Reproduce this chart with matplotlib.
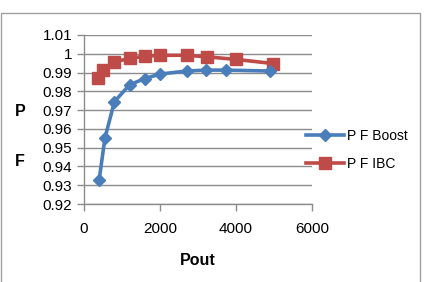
import matplotlib.pyplot as plt
from matplotlib.patches import Rectangle

# data
pout_boost = [400, 550, 800, 1200, 1600, 2000, 2700, 3200, 3750, 4900]
pf_boost = [0.933, 0.955, 0.9745, 0.9835, 0.9868, 0.9892, 0.9908, 0.9913, 0.9913, 0.9908]
pout_ibc = [380, 510, 800, 1200, 1600, 2000, 2700, 3230, 4000, 4980]
pf_ibc = [0.9869, 0.9913, 0.9957, 0.9975, 0.9987, 0.9992, 0.9992, 0.9984, 0.9970, 0.9948]
yticks = [0.92, 0.93, 0.94, 0.95, 0.96, 0.97, 0.98, 0.99, 1.0, 1.01]
ytick_labels = ['0.92', '0.93', '0.94', '0.95', '0.96', '0.97', '0.98', '0.99', '1', '1.01']
xticks = [0, 2000, 4000, 6000]

plt.rcParams['font.family'] = ['Liberation Sans', 'DejaVu Sans']

fig = plt.figure(figsize=(4.26, 2.82), dpi=100)
ax = fig.add_axes([84 / 426, 1 - 204 / 282, 228 / 426, 169 / 282])

grid_c = '#8c8c8c'
ax.plot(pout_boost, pf_boost, color='#4a7ebb', lw=2.6, marker='D', ms=6,
        label='P F Boost', zorder=3)
ax.plot(pout_ibc, pf_ibc, color='#be4b48', lw=2.6, marker='s', ms=8.5,
        label='P F IBC', zorder=2)

ax.set_xlim(0, 6000)
ax.set_ylim(0.92, 1.01)
ax.set_yticks(yticks)
ax.set_yticklabels(ytick_labels)
ax.set_xticks(xticks)
ax.set_xticklabels([str(v) for v in xticks])
ax.yaxis.grid(True, color=grid_c, lw=1)
ax.set_axisbelow(True)
for s in ['top', 'right']:
    ax.spines[s].set_visible(False)
for s in ['left', 'bottom']:
    ax.spines[s].set_color(grid_c)
    ax.spines[s].set_linewidth(1)
ax.tick_params(axis='both', colors=grid_c, length=5, width=1, labelsize=11,
               labelcolor='black')
ax.tick_params(axis='x', pad=8)

ax.set_xlabel('Pout', fontsize=11.5, fontweight='bold', labelpad=12)
fig.text(20 / 426, 1 - 111 / 282, 'P', fontsize=11.5, fontweight='bold',
         ha='center', va='center')
fig.text(20 / 426, 1 - 161 / 282, 'F', fontsize=11.5, fontweight='bold',
         ha='center', va='center')

leg = ax.legend(loc='center left', bbox_to_anchor=(0.975, 0.322), frameon=False,
                fontsize=10, handlelength=2.7, handletextpad=0.2,
                labelspacing=1.0, borderpad=0, borderaxespad=0)

# chart border
fig.patches.append(Rectangle((1 / 426, -0.05), 419 / 426, 1 - 13 / 282 + 0.05,
                             transform=fig.transFigure, fill=False,
                             edgecolor='#a0a0a0', lw=1))

fig.savefig('out.png', dpi=100)
